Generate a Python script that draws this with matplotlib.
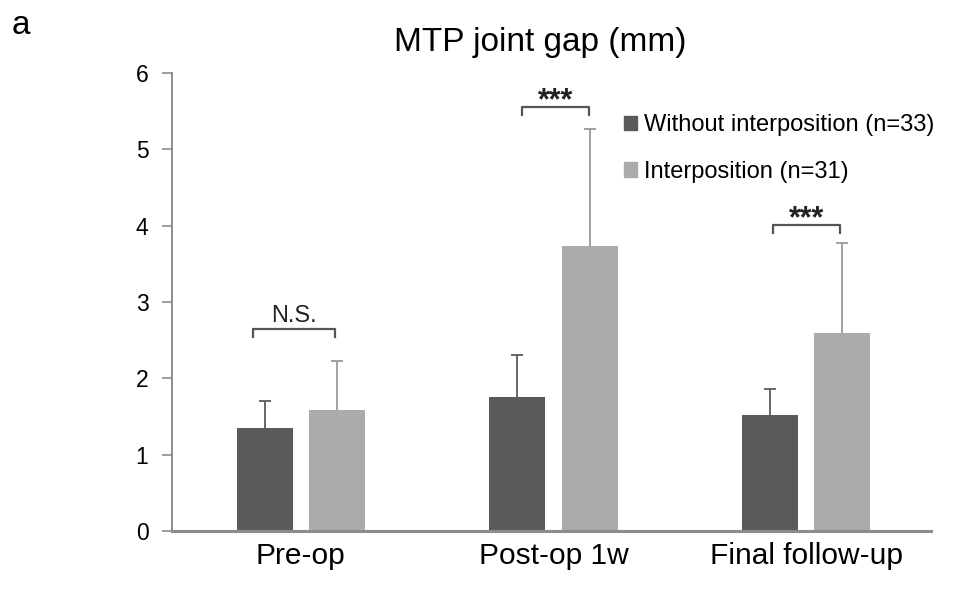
import numpy as np
import matplotlib
matplotlib.use("Agg")
import matplotlib.pyplot as plt
from matplotlib.patches import Patch

plt.rcParams['font.family'] = ['Liberation Sans', 'DejaVu Sans']

# data (mm)
categories = ['Pre-op', 'Post-op 1w', 'Final follow-up']
without_mean = [1.35, 1.76, 1.52]
without_sd = [0.35, 0.54, 0.34]
interp_mean = [1.58, 3.74, 2.60]
interp_sd = [0.65, 1.53, 1.17]
sig_labels = ['N.S.', '***', '***']
sig_heights = [2.64, 5.55, 4.01]

dark = '#5a5a5a'
light = '#ababab'
axis_col = '#8c8c8c'

fig = plt.figure(figsize=(9.63, 6.05), dpi=100)
ax = fig.add_axes([0.1786, 0.1223, 0.967 - 0.1786, 0.8793 - 0.1223])

x = np.arange(len(categories))
off = 0.143
w = 0.222

ax.bar(x - off, without_mean, w, color=dark)
ax.bar(x + off, interp_mean, w, color=light)
# upper error bars only (hide the lower caps sitting on bar tops)
eb1 = ax.errorbar(x - off, without_mean, yerr=[np.zeros(3), without_sd], fmt='none',
                  ecolor=dark, elinewidth=1.3, capsize=4, capthick=1.3)
eb2 = ax.errorbar(x + off, interp_mean, yerr=[np.zeros(3), interp_sd], fmt='none',
                  ecolor='#999999', elinewidth=1.3, capsize=4, capthick=1.3)
for eb in (eb1, eb2):
    eb[1][0].set_visible(False)

# significance brackets
spans = [(-0.19, 0.135), (-0.125, 0.14), (-0.13, 0.135)]
for i, (lab, h) in enumerate(zip(sig_labels, sig_heights)):
    x0, x1 = i + spans[i][0], i + spans[i][1]
    ax.plot([x0, x0, x1, x1], [h - 0.1, h, h, h - 0.1], color='#555555', lw=1.6)
    if lab == '***':
        ax.text((x0 + x1) / 2, h - 0.12, lab, ha='center', va='bottom',
                fontsize=22, color='#222222', fontweight='bold')
    else:
        ax.text((x0 + x1) / 2, h + 0.03, lab, ha='center', va='bottom',
                fontsize=17, color='#222222')

ax.set_xlim(-0.51, 2.495)
ax.set_ylim(0, 6)
ax.set_yticks(range(7))
ax.set_xticks(x)
ax.set_xticklabels(categories, fontsize=21.5)
ax.tick_params(axis='x', length=0, pad=8)
ax.tick_params(axis='y', labelsize=16.5, length=7, width=1.2, color=axis_col, pad=10)

for s in ['top', 'right']:
    ax.spines[s].set_visible(False)
ax.spines['left'].set_color(axis_col)
ax.spines['left'].set_linewidth(1.4)
ax.spines['bottom'].set_color(axis_col)
ax.spines['bottom'].set_linewidth(2.2)

handles = [Patch(color=dark), Patch(color=light)]
ax.legend(handles, ['Without interposition (n=33)', 'Interposition (n=31)'],
          loc='upper left', bbox_to_anchor=(624 / 963, 1 - 114 / 605),
          bbox_transform=fig.transFigure, frameon=False, fontsize=17,
          handlelength=0.55, handleheight=0.55, handletextpad=0.3,
          labelspacing=1.05, borderpad=0, borderaxespad=0)

fig.text(540 / 963, 1 - 42 / 605, 'MTP joint gap (mm)', ha='center', va='center', fontsize=24)
fig.text(12 / 963, 1 - 25 / 605, 'a', ha='left', va='center', fontsize=24)

fig.savefig('out.png', dpi=100)
